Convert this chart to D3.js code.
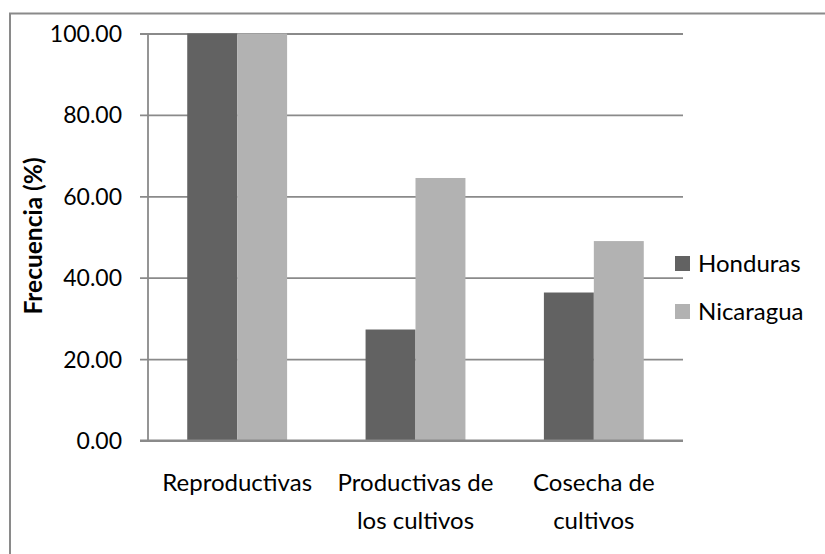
<!DOCTYPE html>
<html><head><meta charset="utf-8">
<script src="https://cdn.jsdelivr.net/npm/d3@7"></script>
<style>body{margin:0;background:#fff}svg{display:block}text{font-family:Lato,"Open Sans",sans-serif;fill:#000}</style>
</head><body>
<script>
const categories = [["Reproductivas"], ["Productivas de", "los cultivos"], ["Cosecha de", "cultivos"]];
const seriesNames = ["Honduras", "Nicaragua"];
const honduras = [100, 27.27, 36.36];
const nicaragua = [100, 64.5, 49.0];
const yTicks = [0, 20, 40, 60, 80, 100];
const colors = ["#626262", "#b2b2b2"];

(function () {
const W = 825, H = 554;
const svg = d3.select("body").append("svg").attr("width", W).attr("height", H);

// outer border
svg.append("rect").attr("x", 10).attr("y", 13.5).attr("width", 830).attr("height", 600)
  .attr("fill", "none").attr("stroke", "#8a8a8a").attr("stroke-width", 2);

const pLeft = 148, pRight = 683, pTop = 33.5, pBottom = 440.5;
const x = d3.scaleBand().domain(d3.range(categories.length)).range([pLeft, pRight]).paddingInner(0.44).paddingOuter(0.22);
const x1 = d3.scaleBand().domain(d3.range(seriesNames.length)).range([0, x.bandwidth()]);
const y = d3.scaleLinear().domain([0, 100]).range([pBottom, pTop]);

// gridlines
const yAxis = d3.axisLeft(y).tickValues(yTicks).tickFormat(d3.format(".2f")).tickSize(-(pRight - pLeft)).tickPadding(26);
const ga = svg.append("g").attr("transform", `translate(${pLeft},0)`).call(yAxis);
ga.select(".domain").remove();
ga.selectAll(".tick line").attr("stroke", "#8a8a8a").attr("stroke-width", 1.8).attr("x1", -8);
ga.selectAll(".tick text").attr("font-size", 23).attr("font-family", "Lato,sans-serif").attr("dy", "0.35em").attr("fill", "#000");

const data = [honduras, nicaragua];
const g = svg.append("g");
data.forEach((vals, s) => {
  g.selectAll(null).data(vals).join("rect")
    .attr("x", (d, i) => x(i) + x1(s))
    .attr("y", d => y(d))
    .attr("width", x1.bandwidth())
    .attr("height", d => y(0) - y(d))
    .attr("fill", colors[s]);
});

// axes lines
svg.append("line").attr("x1", pLeft).attr("x2", pLeft).attr("y1", pTop).attr("y2", pBottom).attr("stroke", "#8a8a8a").attr("stroke-width", 1.8);
svg.append("line").attr("x1", pLeft - 8).attr("x2", pRight).attr("y1", pBottom).attr("y2", pBottom).attr("stroke", "#8a8a8a").attr("stroke-width", 1.8);

// category labels
categories.forEach((lines, i) => {
  const cx = x(i) + x.bandwidth() / 2;
  const t = svg.append("text").attr("text-anchor", "middle").attr("font-size", 24).attr("x", cx).attr("y", 491);
  lines.forEach((l, k) => t.append("tspan").attr("x", cx).attr("dy", k ? 38 : 0).text(l));
});

// y title
svg.append("text").attr("transform", "translate(42,236) rotate(-90)").attr("text-anchor", "middle")
  .attr("font-size", 24.5).attr("font-weight", "bold").text("Frecuencia (%)");

// legend
seriesNames.forEach((n, i) => {
  const ly = 256 + i * 48;
  svg.append("rect").attr("x", 675).attr("y", ly).attr("width", 15).attr("height", 15).attr("fill", colors[i]);
  svg.append("text").attr("x", 698).attr("y", ly + 15.5).attr("font-size", 24).text(n);
});
})();
</script>
</body></html>
